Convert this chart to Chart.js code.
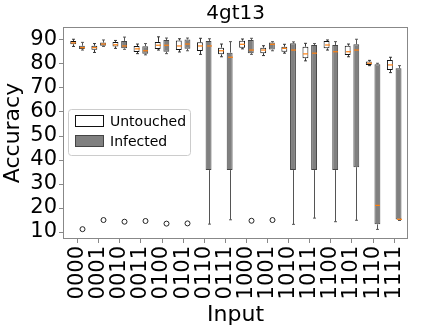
<!DOCTYPE html>
<html lang="en">
<head>
  <meta charset="UTF-8" />
  <title>4gt13</title>
  <script src="https://cdn.jsdelivr.net/npm/chart.js"></script>
  <style>
    body { margin: 0; background: #fff; }
    canvas { display: block; }
  </style>
</head>
<body>
  <canvas id="boxChart" width="423" height="331"></canvas>
  <script>
    const inputs = ['0000','0001','0010','0011','0100','0101','0110','0111',
                    '1000','1001','1010','1011','1100','1101','1110','1111'];
    const yTicks = [10, 20, 30, 40, 50, 60, 70, 80, 90];

    // Untouched
    const untLo  = [87.3, 84.8, 86.5, 84.3, 85.8, 85.0, 84.0, 83.0, 86.3, 83.5, 84.5, 81.3, 85.8, 83.0, 79.3, 76.4];
    const untQ1  = [88.2, 85.9, 87.3, 85.0, 86.2, 85.8, 85.4, 84.0, 86.8, 84.5, 85.1, 82.4, 86.5, 83.7, 79.6, 77.5];
    const untMed = [88.8, 86.8, 88.0, 86.3, 87.8, 87.5, 87.5, 85.5, 88.2, 85.8, 86.5, 84.2, 87.9, 85.1, 80.3, 79.6];
    const untQ3  = [89.6, 87.6, 89.2, 87.5, 89.2, 89.8, 89.0, 86.8, 89.7, 86.8, 87.2, 87.2, 89.6, 87.6, 81.0, 81.7];
    const untHi  = [90.3, 88.5, 89.8, 88.3, 91.3, 90.5, 90.7, 88.3, 90.4, 87.6, 88.2, 88.6, 90.0, 88.3, 81.5, 82.8];
    const untOut = [[], [], [], [], [], [], [], [], [], [], [], [], [], [], [], []];

    // Infected
    const infLo  = [85.8, 87.3, 86.1, 83.8, 84.3, 85.5, 13.3, 15.1, 84.0, 85.5, 13.2, 15.8, 14.3, 14.9, 11.1, 14.8];
    const infQ1  = [86.2, 87.6, 86.5, 84.3, 85.1, 86.3, 35.8, 35.8, 84.5, 86.0, 35.8, 35.8, 35.8, 37.0, 13.2, 15.2];
    const infMed = [86.8, 88.3, 87.5, 85.5, 87.8, 88.3, 87.5, 82.8, 85.8, 88.2, 85.8, 84.5, 85.1, 85.8, 21.1, 15.3];
    const infQ3  = [87.6, 88.9, 89.6, 87.4, 90.0, 90.2, 89.6, 84.7, 90.0, 88.9, 88.6, 87.9, 87.9, 88.2, 79.9, 78.2];
    const infHi  = [89.0, 90.0, 91.2, 88.5, 90.8, 90.8, 90.5, 89.3, 90.7, 89.3, 89.2, 88.5, 89.3, 90.3, 80.3, 79.3];
    const infOut = [[11.2], [15.0], [14.3], [14.6], [13.5], [13.6], [], [], [14.7], [15.0], [], [], [], [], [], []];

    const MEDIAN = '#ff7f0e';

    function boxData(q1, q3) {
      return inputs.map((_, i) => ({ x: i + 1, y: [q1[i], q3[i]] }));
    }

    // whiskers, caps, medians and fliers on top of the floating bars
    const boxExtras = {
      id: 'boxExtras',
      afterDatasetsDraw(chart) {
        const ctx = chart.ctx, ys = chart.scales.y;
        chart.data.datasets.forEach((ds, di) => {
          const meta = chart.getDatasetMeta(di);
          meta.data.forEach((bar, i) => {
            const cx = Math.round(bar.x) + 0.5;
            const hw = bar.width / 2;
            const yq1 = ys.getPixelForValue(ds.q1[i]);
            const yq3 = ys.getPixelForValue(ds.q3[i]);
            const ylo = ys.getPixelForValue(ds.lo[i]);
            const yhi = ys.getPixelForValue(ds.hi[i]);
            const ymed = ys.getPixelForValue(ds.med[i]);
            ctx.save();
            ctx.strokeStyle = ds.whiskerColor;
            ctx.lineWidth = 1;
            ctx.beginPath();
            ctx.moveTo(cx, yq1); ctx.lineTo(cx, ylo);
            ctx.moveTo(cx, yq3); ctx.lineTo(cx, yhi);
            ctx.moveTo(cx - hw / 2, ylo); ctx.lineTo(cx + hw / 2, ylo);
            ctx.moveTo(cx - hw / 2, yhi); ctx.lineTo(cx + hw / 2, yhi);
            ctx.stroke();
            ctx.strokeStyle = MEDIAN;
            ctx.lineWidth = 1.2;
            ctx.beginPath();
            ctx.moveTo(cx - hw + 0.5, ymed); ctx.lineTo(cx + hw - 0.5, ymed);
            ctx.stroke();
            ctx.strokeStyle = '#222';
            ctx.lineWidth = 1;
            ds.out[i].forEach(v => {
              ctx.beginPath();
              ctx.arc(cx, ys.getPixelForValue(v), 2.5, 0, Math.PI * 2);
              ctx.stroke();
            });
            ctx.restore();
          });
        });
      }
    };

    // axes frame and legend inside the plot
    const frameAndLegend = {
      id: 'frameAndLegend',
      afterDraw(chart) {
        const ctx = chart.ctx, a = chart.chartArea;
        ctx.save();
        ctx.strokeStyle = '#888';
        ctx.lineWidth = 1;
        ctx.strokeRect(Math.round(a.left) + 0.5, Math.round(a.top) + 0.5,
                       Math.round(a.right - a.left) - 1, Math.round(a.bottom - a.top) - 1);

        const lx = a.left + 5, ly = a.top + 82, lw = 122, lh = 46;
        ctx.fillStyle = 'rgba(255,255,255,0.85)';
        ctx.strokeStyle = '#ccc';
        ctx.beginPath();
        ctx.roundRect(lx + 0.5, ly + 0.5, lw, lh, 3);
        ctx.fill();
        ctx.stroke();
        ctx.font = '14px "DejaVu Sans"';
        ctx.textBaseline = 'middle';
        chart.data.datasets.forEach((ds, i) => {
          const ry = ly + 6 + i * 20;
          ctx.fillStyle = ds.backgroundColor;
          ctx.strokeStyle = ds.borderColor;
          ctx.fillRect(lx + 7.5, ry + 0.5, 28, 11);
          ctx.strokeRect(lx + 7.5, ry + 0.5, 28, 11);
          ctx.fillStyle = '#000';
          ctx.fillText(ds.label, lx + 42, ry + 7);
        });
        ctx.restore();
      }
    };

    new Chart(document.getElementById('boxChart'), {
      type: 'bar',
      data: {
        datasets: [
          {
            label: 'Untouched',
            data: boxData(untQ1, untQ3),
            backgroundColor: '#ffffff',
            borderColor: '#111',
            whiskerColor: '#333',
            borderWidth: 1,
            borderSkipped: false,
            q1: untQ1, q3: untQ3, med: untMed, lo: untLo, hi: untHi, out: untOut
          },
          {
            label: 'Infected',
            data: boxData(infQ1, infQ3),
            backgroundColor: '#808080',
            borderColor: '#444',
            whiskerColor: '#555',
            borderWidth: 1,
            borderSkipped: false,
            q1: infQ1, q3: infQ3, med: infMed, lo: infLo, hi: infHi, out: infOut
          }
        ]
      },
      options: {
        responsive: false,
        animation: false,
        devicePixelRatio: 1,
        layout: { padding: { right: 5, left: 0, bottom: 0 } },
        datasets: { bar: { categoryPercentage: 0.82, barPercentage: 0.68 } },
        plugins: {
          legend: { display: false },
          tooltip: { enabled: false },
          title: {
            display: true,
            text: '4gt13',
            fullSize: false,
            color: '#000',
            font: { family: 'DejaVu Sans', size: 20, weight: 'normal' },
            padding: { top: 2, bottom: 1 }
          }
        },
        scales: {
          x: {
            type: 'linear',
            min: 0.31,
            max: 16.66,
            offset: false,
            afterBuildTicks: axis => { axis.ticks = inputs.map((_, i) => ({ value: i + 1 })); },
            afterFit: scale => { scale.height = 92; },
            border: { display: false },
            grid: { drawOnChartArea: false, drawTicks: true, tickLength: 4, color: '#888', offset: false },
            ticks: {
              autoSkip: false,
              minRotation: 90,
              maxRotation: 90,
              padding: 3,
              color: '#000',
              font: { family: 'DejaVu Sans', size: 21 },
              callback: v => inputs[v - 1]
            },
            title: {
              display: true,
              text: 'Input',
              color: '#000',
              font: { family: 'DejaVu Sans', size: 22 },
              padding: { top: 0, bottom: 3 }
            }
          },
          y: {
            min: 7.1,
            max: 95.4,
            afterBuildTicks: axis => { axis.ticks = yTicks.map(v => ({ value: v })); },
            afterFit: scale => { scale.width = 63; },
            border: { display: false },
            grid: { drawOnChartArea: false, drawTicks: true, tickLength: 4, color: '#888' },
            ticks: {
              autoSkip: false,
              padding: 2,
              color: '#000',
              font: { family: 'DejaVu Sans', size: 21 }
            },
            title: {
              display: true,
              text: 'Accuracy',
              color: '#000',
              font: { family: 'DejaVu Sans', size: 22 },
              padding: { top: 0, bottom: 0 }
            }
          }
        }
      },
      plugins: [boxExtras, frameAndLegend]
    });
  </script>
</body>
</html>
